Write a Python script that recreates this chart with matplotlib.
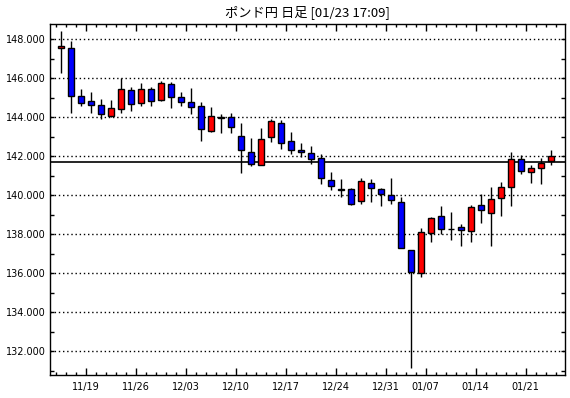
import matplotlib
matplotlib.use('Agg')
import matplotlib.pyplot as plt
from matplotlib.ticker import FixedLocator, MultipleLocator, FuncFormatter

title = 'ポンド円 日足 [01/23 17:09]'

dates = ['11/14', '11/15', '11/16', '11/19', '11/20', '11/21', '11/22', '11/23',
         '11/26', '11/27', '11/28', '11/29', '11/30', '12/03', '12/04', '12/05',
         '12/06', '12/07', '12/10', '12/11', '12/12', '12/13', '12/14', '12/17',
         '12/18', '12/19', '12/20', '12/21', '12/24', '12/25', '12/26', '12/27',
         '12/28', '12/31', '01/02', '01/03', '01/04', '01/07', '01/08', '01/09',
         '01/10', '01/11', '01/14', '01/15', '01/16', '01/17', '01/18', '01/21',
         '01/22', '01/23']

opens = [147.55, 147.54, 145.09, 144.82, 144.62, 144.08, 144.41, 145.38, 144.72, 145.44,
         144.89, 145.69, 145.03, 144.77, 144.58, 143.31, 144.00, 144.00, 143.04, 142.21,
         141.54, 142.97, 143.69, 142.77, 142.32, 142.15, 141.90, 140.77, 140.31, 140.31,
         139.71, 140.65, 140.31, 140.00, 139.64, 137.18, 136.00, 138.05, 138.92, 138.27,
         138.36, 138.15, 139.49, 139.08, 139.85, 140.44, 141.85, 141.21, 141.38, 141.74]
highs = [148.42, 147.91, 145.45, 145.30, 144.94, 144.89, 146.00, 145.57, 145.77, 145.57,
         145.88, 145.83, 145.30, 145.49, 144.80, 144.51, 144.17, 144.20, 143.69, 142.95,
         143.45, 143.91, 143.86, 143.26, 142.67, 142.53, 142.10, 141.19, 140.82, 140.36,
         140.87, 140.82, 140.39, 140.89, 139.90, 137.18, 138.31, 138.87, 139.45, 139.16,
         138.53, 139.50, 140.07, 140.41, 140.67, 142.21, 142.07, 141.55, 141.90, 142.32]
lows = [146.29, 144.24, 144.59, 144.24, 143.91, 144.00, 144.24, 144.34, 144.59, 144.59,
        144.84, 144.49, 144.59, 144.15, 142.80, 143.26, 143.21, 143.21, 141.16, 141.49,
        141.54, 142.72, 142.36, 142.13, 141.95, 141.61, 140.56, 140.27, 139.93, 139.50,
        139.54, 139.67, 139.47, 139.54, 137.28, 131.12, 135.79, 137.59, 138.00, 137.71,
        137.40, 137.62, 138.59, 137.37, 138.94, 139.47, 141.08, 140.65, 140.58, 141.55]
closes = [147.65, 145.11, 144.75, 144.62, 144.15, 144.46, 145.44, 144.67, 145.44, 144.84,
          145.74, 145.03, 144.77, 144.54, 143.38, 144.08, 143.97, 143.49, 142.31, 141.59,
          142.87, 143.79, 142.67, 142.31, 142.22, 141.86, 140.87, 140.49, 140.28, 139.54,
          140.73, 140.36, 140.05, 139.74, 137.28, 136.05, 138.10, 138.82, 138.26, 138.25,
          138.24, 139.38, 139.23, 139.79, 140.44, 141.85, 141.26, 141.38, 141.67, 142.00]

week_labels = ['11/19', '11/26', '12/03', '12/10', '12/17', '12/24', '12/31',
               '01/07', '01/14', '01/21']
ref_level = 141.69

W, H = 570, 398
fig = plt.figure(figsize=(W / 100, H / 100), dpi=100)
ax = fig.add_axes([49.5 / W, 1 - 375 / H, 515 / W, 351 / H])

xs = list(range(len(dates)))
# wicks
ax.vlines(xs, lows, highs, color='black', lw=1.0, zorder=3)
# bodies
for x, o, c in zip(xs, opens, closes):
    col = '#FF0000' if c >= o else '#0000FF'
    bottom = min(o, c)
    height = max(abs(c - o), 0.02)
    ax.bar(x, height, bottom=bottom, width=0.64, color=col,
           edgecolor='black', linewidth=1.0, zorder=4)

ax.axhline(ref_level, color='black', lw=1.2, zorder=2)

ax.set_xlim(-1.12, 50.38)
ax.set_ylim(130.78, 148.78)

# y axis
ax.yaxis.set_major_locator(MultipleLocator(2))
ax.yaxis.set_minor_locator(MultipleLocator(1))
ax.yaxis.set_major_formatter(FuncFormatter(lambda v, p: f'{v:.3f}'))
ax.yaxis.grid(True, which='major', linestyle=(0, (1, 2)), color='black', lw=1.0)
ax.set_axisbelow(True)

# x axis
major_pos = [dates.index(d) - 0.5 for d in week_labels]
minor_pos = [i - 0.5 for i in range(len(dates) + 1)]
ax.set_xticks(major_pos)
ax.set_xticklabels(week_labels)
ax.xaxis.set_minor_locator(FixedLocator(minor_pos))

ax.tick_params(axis='both', which='both', direction='in', top=True, right=True,
               colors='black', labelsize=7, width=1)
ax.tick_params(axis='x', which='major', length=5, pad=5)
ax.tick_params(axis='x', which='minor', length=2.5)
ax.tick_params(axis='y', which='major', length=3, pad=3)
ax.tick_params(axis='y', which='minor', length=3)

for s in ax.spines.values():
    s.set_color('black')
    s.set_linewidth(1.0)

fig.text((49.5 + 564.5) / 2 / W, 1 - 12 / H, title, ha='center', va='center',
         fontsize=9.5, family=['Noto Sans CJK JP', 'DejaVu Sans'])

fig.savefig('out.png', dpi=100, facecolor='white')
